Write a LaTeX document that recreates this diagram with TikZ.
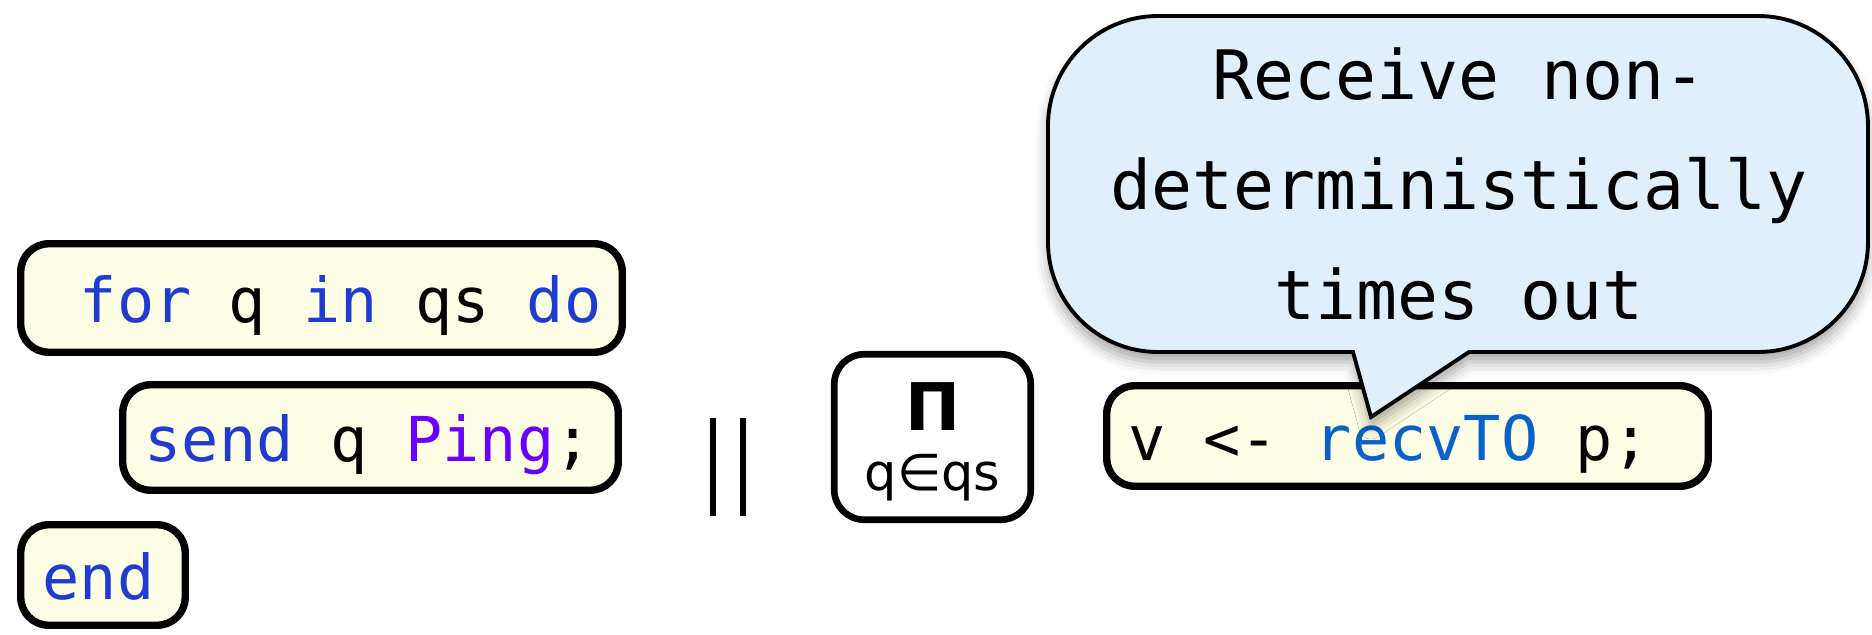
\documentclass[tikz,border=0pt]{standalone}
\usepackage{fontspec}
\setmonofont{DejaVu Sans Mono}
\setsansfont{DejaVu Sans}
\usetikzlibrary{shadows.blur}

\definecolor{codebg}{RGB}{254,253,230}
\definecolor{notebg}{RGB}{224,239,252}
\definecolor{kwblue}{RGB}{31,60,208}
\definecolor{ctorpurple}{RGB}{106,0,255}
\definecolor{fnblue}{RGB}{10,98,200}
\newcommand{\kw}[1]{\textcolor{kwblue}{#1}}
% one left-aligned code line in a box of given width
\newcommand{\codeline}[2]{\makebox[#1][l]{#2}}

\begin{document}
\begin{tikzpicture}[
    code/.style={draw=black, line width=2.1pt, rounded corners=0.28cm, fill=codebg,
        font=\ttfamily\fontsize{17.6}{21}\selectfont, inner xsep=0.22cm, inner ysep=0pt,
        text height=0.48cm, text depth=0pt},
    prodbox/.style={draw=black, line width=1.9pt, rounded corners=0.3cm, fill=white,
        minimum width=1.965cm, minimum height=1.655cm},
    parbar/.style={draw=black, line width=1.7pt},
    notebox/.style={draw=black, line width=1.1pt, fill=notebg,
        blur shadow={shadow xshift=0cm, shadow yshift=-0.1cm, shadow blur radius=0.12cm, shadow opacity=35}},
    notetext/.style={font=\ttfamily\fontsize{19.4}{31.3}\selectfont, align=center, inner sep=0pt}
]
\useasboundingbox (0,0) rectangle (18.72,6.34);

% Sender: loop over qs.
\node[code, minimum height=1.085cm] (loop) at (3.215,3.36) {\codeline{5.575cm}{~\kw{for} q \kw{in} qs \kw{do}}};
\node[code, minimum height=1.055cm] (send) at (3.705,1.965) {\codeline{4.515cm}{\kw{send} q \textcolor{ctorpurple}{Ping};}};
\node[code, minimum height=1.005cm] (loopend) at (1.03,0.59) {\codeline{1.205cm}{\kw{end}}};

% Parallel composition.
\draw[parbar] (7.13,1.18) -- (7.13,2.16);
\draw[parbar] (7.43,1.18) -- (7.43,2.16);

% Product over receivers.
\node[prodbox] (prod) at (9.325,1.97) {};
\node[anchor=base, font=\sffamily\bfseries\fontsize{18.7}{20}\selectfont] (prodsym) at ([yshift=0.07cm]prod.center) {Π};
\node[anchor=base, font=\sffamily\fontsize{14.5}{16}\selectfont] (prodrange) at ([yshift=-0.53cm]prod.center) {q∈qs};

% Receiver with timeout.
\node[code, minimum height=1.005cm] (recv) at (14.075,1.98) {\codeline{5.575cm}{v <- \textcolor{fnblue}{recvTO} p;}};

% Speech bubble pointing at recvTO.
\coordinate (tip) at (13.71,2.17);
\draw[notebox] (14.69,2.82) -- (17.58,2.82) arc[start angle=-90, end angle=0, radius=1.1cm]
    -- (18.68,5.08) arc[start angle=0, end angle=90, radius=1.1cm]
    -- (11.58,6.18) arc[start angle=90, end angle=180, radius=1.1cm]
    -- (10.48,3.92) arc[start angle=180, end angle=270, radius=1.1cm]
    -- (13.53,2.82) -- (tip) -- cycle;
\node[notetext] (note) at (14.59,4.50) {Receive non-\\deterministically\\times out};

\end{tikzpicture}
\end{document}
